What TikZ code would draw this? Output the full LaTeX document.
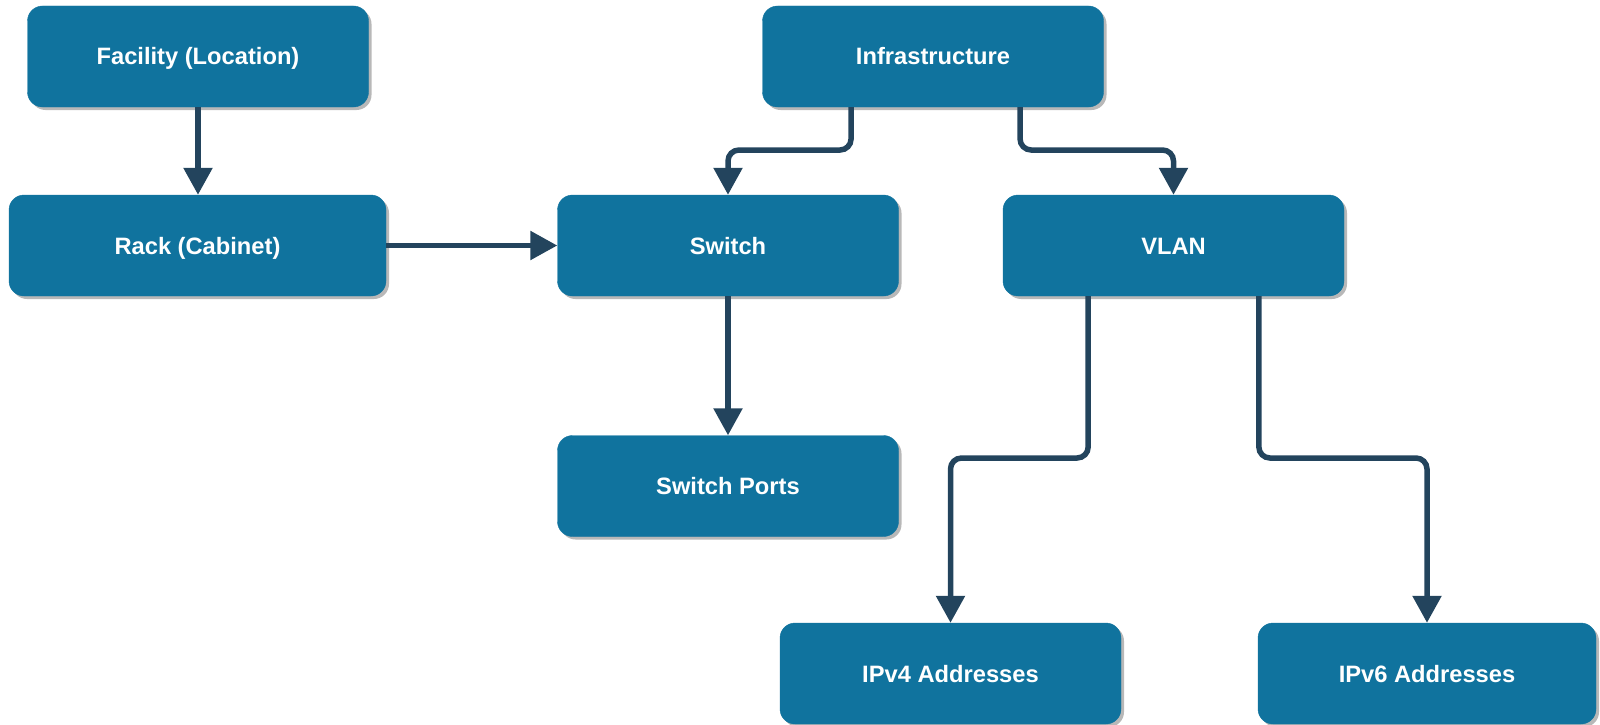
\documentclass[tikz,border=0pt]{standalone}
\usepackage{fontspec}
\setmainfont{Liberation Sans}
\usetikzlibrary{arrows.meta,shadows,calc}
\definecolor{boxblue}{HTML}{10739E}
\definecolor{linkblue}{HTML}{23445D}
\tikzset{
  box/.style={rectangle, rounded corners=15pt, fill=boxblue, draw=boxblue,
    minimum width=341pt, minimum height=101pt, inner sep=0pt,
    text height=17pt, text depth=0pt,
    text=white, font=\fontsize{23.7}{28}\selectfont\bfseries,
    drop shadow={shadow xshift=3pt, shadow yshift=-3pt, fill=black, opacity=0.28}},
  conn/.style={draw=linkblue, line width=5.5pt, rounded corners=11pt,
    -{Triangle[width=28pt,length=27pt]}}
}
\begin{document}
\begin{tikzpicture}[x=1pt,y=-1pt]
\useasboundingbox (0,0) rectangle (1600,725);
\node[box] (facility) at (198,56.5) {Facility (Location)};
\node[box, minimum width=377pt] (rack) at (197.5,245.5) {Rack (Cabinet)};
\node[box] (infra) at (933,56.5) {Infrastructure};
\node[box] (switch) at (728,245.5) {Switch};
\node[box] (vlan) at (1173.5,245.5) {VLAN};
\node[box] (ports) at (728,486) {Switch Ports};
\node[box] (ipv4) at (950.5,673.5) {IPv4 Addresses};
\node[box, minimum width=338pt] (ipv6) at (1427,673.5) {IPv6 Addresses};

\coordinate (ia) at ($(infra.south west)!0.26!(infra.south east)$);
\coordinate (ib) at ($(infra.south west)!0.755!(infra.south east)$);
\coordinate (va) at ($(vlan.south west)!0.25!(vlan.south east)$);
\coordinate (vb) at ($(vlan.south west)!0.75!(vlan.south east)$);
\coordinate (lvl1) at (0,150);
\coordinate (lvl2) at (0,458);

\draw[conn] (facility.south) -- (facility.south |- rack.north);
\draw[conn] (rack.east) -- (switch.west);
\draw[conn] (switch.south) -- (ports.north);
\draw[conn] (ia) -- (ia |- lvl1) -- (switch.north |- lvl1) -- (switch.north);
\draw[conn] (ib) -- (ib |- lvl1) -- (vlan.north |- lvl1) -- (vlan.north);
\draw[conn] (va) -- (va |- lvl2) -- (ipv4.north |- lvl2) -- (ipv4.north);
\draw[conn] (vb) -- (vb |- lvl2) -- (ipv6.north |- lvl2) -- (ipv6.north);
\end{tikzpicture}
\end{document}
